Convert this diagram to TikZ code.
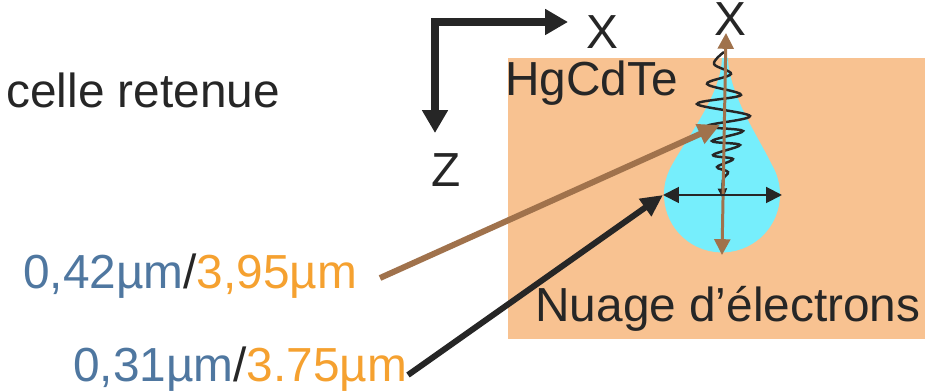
\documentclass[tikz,border=0pt]{standalone}
\usepackage{fontspec}
\setmainfont{Liberation Sans}
\usetikzlibrary{arrows.meta}

\definecolor{ink}{HTML}{262626}
\definecolor{hgcdte}{HTML}{F8C291}
\definecolor{cloudcyan}{HTML}{76EEFC}
\definecolor{rod}{HTML}{A0724C}
\definecolor{vis}{HTML}{4F77A0}
\definecolor{ir}{HTML}{F5A130}

\begin{document}
\begin{tikzpicture}[x=0.02cm,y=-0.02cm,
	txt/.style={inner sep=0pt, anchor=base west, text=ink, font=\fontsize{27.2}{32}\selectfont},
	axis/.style={line width=4pt, draw=ink, line join=miter, {Triangle[length=13pt,width=14pt]}-{Triangle[length=13pt,width=14pt]}},
	pointer/.style={line width=3.4pt, -{Triangle[length=12.5pt,width=11.5pt]}},
	span/.style={{Triangle[length=9pt,width=9pt]}-{Triangle[length=9pt,width=9pt]}}]

	\useasboundingbox (0,0) rectangle (933,391);

	% Layer and cloud
	\fill[hgcdte] (508,58) rectangle (925,339);
	\fill[cloudcyan] (722,58) .. controls (721,95) and (688,136) .. (672,165)
		arc[start angle=210.5, end angle=-30.5, radius=58]
		.. controls (758,136) and (729,95) .. (728,58) -- cycle;
	\coordinate (cloud) at (723,195);

	% Photon track
	\draw[ink, line width=1.4pt, -{Triangle[length=6pt,width=5pt]}] plot[smooth, tension=0.6] coordinates{
		(724,52) (714,64) (731,74) (707,84) (741,95) (697,104) (750,116) (707,126)
		(743,131) (712,141) (740,145) (713,155) (733,159) (717,167) (728,172) (723,180) (723,199) };

	% Cloud size
	\coordinate (top) at (726,33);
	\coordinate (bottom) at (722,255);
	\coordinate (left) at (663,195);
	\coordinate (right) at (782,195);
	\draw[span, rod, line width=1.7pt] (bottom) -- (top);
	\draw[span, ink, line width=1.1pt] (left) -- (right);

	% Axes
	\coordinate (origin) at (435,22);
	\coordinate (xend) at (568,22);
	\coordinate (zend) at (435,133);
	\draw[axis] (xend) -- (origin) -- (zend);
	\node[txt] (xlab) at (586,49) {X};
	\node[txt] (xtop) at (714,36) {X};
	\node[txt] (zlab) at (431,187) {Z};

	% Labels
	\node[txt] (cell) at (6,108) {celle retenue};
	\node[txt] (mat) at (505,96) {HgCdTe};
	\node[txt] (cloudlab) at (535,322) {Nuage d’électrons};
	\node[txt] (blue) at (23,289) {\textcolor{vis}{0,42µm}/\textcolor{ir}{3,95µm}};
	\node[txt] (black) at (73,381) {\textcolor{vis}{0,31µm}/\textcolor{ir}{3.75µm}};

	% Pointers
	\coordinate (blueto) at (380,278);
	\coordinate (track) at (720,125);
	\coordinate (blackto) at (408,375);
	\draw[pointer, rod] (blueto) -- (track);
	\draw[pointer, ink] (blackto) -- (left);

\end{tikzpicture}
\end{document}
